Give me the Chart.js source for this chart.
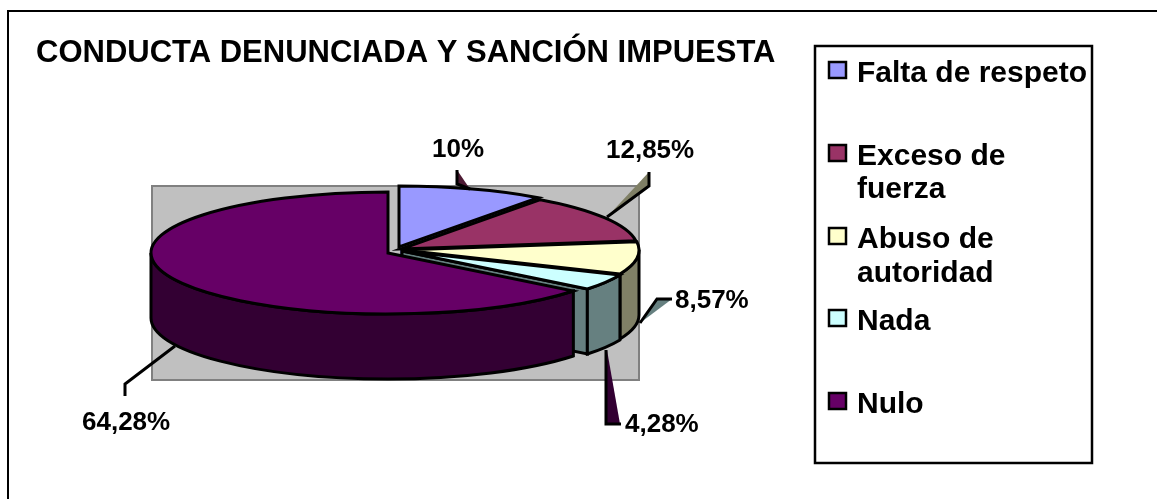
<!DOCTYPE html>
<html><head><meta charset="utf-8">
<style>html,body{margin:0;padding:0;background:#fff}canvas{display:block}</style>
<script src="https://cdn.jsdelivr.net/npm/chart.js@4/dist/chart.umd.min.js"></script>
</head><body>
<canvas id="c" width="1157" height="499" style="width:1157px;height:499px"></canvas>
<script>
const titleText = 'CONDUCTA DENUNCIADA Y SANCIÓN IMPUESTA';
const categories = ['Falta de respeto', 'Exceso de fuerza', 'Abuso de autoridad', 'Nada', 'Nulo'];
const percentages = [10, 12.85, 8.57, 4.28, 64.28];
const percentLabels = ['10%', '12,85%', '8,57%', '4,28%', '64,28%'];
const legendLines = [['Falta de respeto'], ['Exceso de', 'fuerza'], ['Abuso de', 'autoridad'], ['Nada'], ['Nulo']];
const topColors = ['#9999FF', '#993366', '#FFFFCC', '#CCFFFF', '#660066'];
const wallColors = ['#4D4D80', '#4D1A33', '#808066', '#668080', '#330033'];

const FONT = '"Liberation Sans", Arial, sans-serif';
const CX = 399, CY = 250, RADIUS = 237, RY_RATIO = 61 / 237, DEPTH = 65;
const explode = [[0, -3], [2, -1], [3, 0], [3, 1], [-11, 3]];
const labelPos = [[432, 157], [606, 158], [675, 308], [625, 432], [82, 430]];
const legendY = [[82], [165, 198], [248, 282], [330], [413]];
const swatchY = [62, 145, 228, 310, 393];

const pie3d = {
  id: 'pie3d',
  beforeDraw(chart) {
    const c = chart.ctx;
    c.save();
    c.fillStyle = '#fff'; c.fillRect(0, 0, 1157, 499);
    c.fillStyle = '#C0C0C0'; c.strokeStyle = '#808080'; c.lineWidth = 2;
    c.fillRect(152, 186, 487, 194); c.strokeRect(152, 186, 487, 194);
    c.strokeStyle = '#000'; c.lineWidth = 2;
    c.strokeRect(8, 11, 1170, 500);
    c.restore();
  },
  beforeDatasetsDraw(chart) {
    const c = chart.ctx, arcs = chart.getDatasetMeta(0).data;
    const place = (a, i) => {
      c.translate(CX + explode[i][0], CY + explode[i][1]);
      c.scale(1, RY_RATIO);
      c.translate(-a.x, -a.y);
    };
    const pt = (a, i, ang, dz) => [
      CX + explode[i][0] + a.outerRadius * Math.cos(ang),
      CY + explode[i][1] + a.outerRadius * RY_RATIO * Math.sin(ang) + dz];
    const edge = () => { c.lineWidth = 3; c.strokeStyle = '#000'; c.lineJoin = 'miter'; c.stroke(); };

    const wall = (i) => {
      const a = arcs[i];
      const s = Math.max(a.startAngle, 0), e = Math.min(a.endAngle, Math.PI);
      if (e <= s) return;
      const R = a.outerRadius, ox = CX + explode[i][0], oy = CY + explode[i][1];
      c.beginPath();
      c.ellipse(ox, oy, R, R * RY_RATIO, 0, s, e);
      c.ellipse(ox, oy + DEPTH, R, R * RY_RATIO, 0, e, s, true);
      c.closePath();
      c.fillStyle = wallColors[i]; c.fill(); edge();
    };
    // small visible side of the first slice at the centre
    c.fillStyle = wallColors[0];
    c.fillRect(CX + explode[0][0] + 1, CY + explode[0][1] + 1, 4, 9);
    // cut face of the slice next to the exploded one
    {
      const i = 3, a = arcs[i];
      const ox = CX + explode[i][0], oy = CY + explode[i][1];
      const p = pt(a, i, a.endAngle, 0);
      c.beginPath();
      c.moveTo(ox, oy); c.lineTo(p[0], p[1]); c.lineTo(p[0], p[1] + DEPTH); c.lineTo(ox, oy + DEPTH); c.closePath();
      c.fillStyle = wallColors[i]; c.fill(); edge();
    }
    [2, 3, 4].forEach(wall);

    // top faces, drawn by the library's arc elements
    [0, 1, 2, 3, 4].forEach(i => {
      const a = arcs[i];
      c.save(); place(a, i); a.draw(c); c.restore();
      const ox = CX + explode[i][0], oy = CY + explode[i][1];
      c.beginPath();
      c.moveTo(ox, oy);
      c.ellipse(ox, oy, a.outerRadius, a.outerRadius * RY_RATIO, 0, a.startAngle, a.endAngle);
      c.closePath();
      edge();
    });
    return false;
  },
  afterDraw(chart) {
    const c = chart.ctx;
    c.save();
    const poly = (pts, fill) => {
      c.beginPath(); pts.forEach((p, k) => k ? c.lineTo(p[0], p[1]) : c.moveTo(p[0], p[1])); c.closePath();
      c.fillStyle = fill; c.fill();
    };
    const line = (pts) => {
      c.beginPath(); pts.forEach((p, k) => k ? c.lineTo(p[0], p[1]) : c.moveTo(p[0], p[1]));
      c.strokeStyle = '#000'; c.lineWidth = 3; c.lineJoin = 'miter'; c.stroke();
    };
    poly([[457, 170], [470, 189], [457, 184]], '#4D1A33');
    line([[457, 170], [457, 184], [470, 189]]);
    poly([[649, 172], [607, 217], [649, 186]], '#808066');
    line([[649, 172], [649, 186], [607, 217]]);
    poly([[672, 299], [640, 323], [657, 299]], '#668080');
    line([[672, 299], [657, 299], [640, 323]]);
    poly([[607, 350], [620, 424], [606, 424]], '#330033');
    line([[606, 350], [606, 424], [621, 424]]);
    line([[175, 346], [125, 384], [125, 396]]);

    // data labels
    c.fillStyle = '#000'; c.textBaseline = 'alphabetic'; c.textAlign = 'left';
    c.font = 'bold 26px ' + FONT;
    percentLabels.forEach((t, i) => c.fillText(t, labelPos[i][0], labelPos[i][1]));

    // legend
    c.fillStyle = '#fff'; c.strokeStyle = '#000'; c.lineWidth = 2.5;
    c.fillRect(815, 46, 277, 417); c.strokeRect(815, 46, 277, 417);
    c.font = 'bold 30px ' + FONT;
    categories.forEach((cat, i) => {
      c.fillStyle = topColors[i]; c.fillRect(829, swatchY[i], 17, 16);
      c.strokeStyle = '#000'; c.lineWidth = 2.5; c.strokeRect(829, swatchY[i], 17, 16);
      c.fillStyle = '#000';
      legendLines[i].forEach((ln, k) => c.fillText(ln, 857, legendY[i][k]));
    });
    c.restore();
  }
};

new Chart(document.getElementById('c'), {
  type: 'pie',
  data: { labels: categories, datasets: [{
    data: percentages, backgroundColor: topColors, borderWidth: 0, radius: RADIUS, clip: false
  }]},
  options: {
    responsive: false, animation: false, events: [],
    layout: { padding: { left: 36, top: 27, right: 0, bottom: 0 } },
    plugins: {
      legend: { display: false },
      tooltip: { enabled: false },
      title: { display: true, text: titleText, align: 'start', color: '#000',
               font: { family: FONT, size: 31, weight: 'bold' }, padding: { top: 8, bottom: 0 } }
    }
  },
  plugins: [pie3d]
});
</script>
</body></html>
